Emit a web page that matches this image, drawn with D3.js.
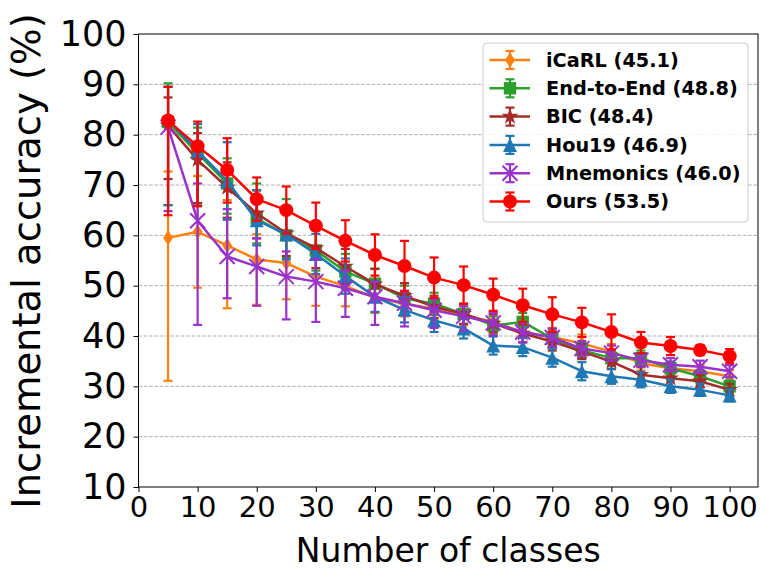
<!DOCTYPE html>
<html>
<head>
<meta charset="utf-8">
<script src="https://cdn.jsdelivr.net/npm/d3@7"></script>
<style>
  body { margin: 0; background: #fff; }
  svg { display: block; font-family: "DejaVu Sans", sans-serif; }
</style>
</head>
<body>
<svg id="chart" width="771" height="578"></svg>
<script>
// number of classes seen so far
const classes = [5, 10, 15, 20, 25, 30, 35, 40, 45, 50, 55, 60, 65, 70, 75, 80, 85, 90, 95, 100];
const xTicks = [0, 10, 20, 30, 40, 50, 60, 70, 80, 90, 100];
const yTicks = [10, 20, 30, 40, 50, 60, 70, 80, 90, 100];

const icarlAcc  = [59.5, 60.7, 58.0, 55.2, 54.5, 51.8, 49.9, 47.6, 46.4, 45.4, 44.1, 42.8, 40.8, 39.8, 38.5, 36.9, 34.6, 33.6, 33.0, 32.0];
const icarlUp   = [13.2, 11.1, 9.0, 5.0, 4.5, 4.0, 3.0, 2.5, 2.2, 2.0, 2.0, 2.0, 2.0, 1.8, 1.8, 1.5, 1.5, 1.3, 1.2, 1.2];
const icarlDown = [28.4, 11.1, 12.5, 9.0, 7.2, 5.8, 4.0, 3.0, 2.5, 2.2, 2.0, 2.0, 2.0, 1.8, 1.8, 1.5, 1.5, 1.3, 1.2, 1.2];

const e2eAcc  = [82.5, 76.3, 70.3, 63.4, 60.0, 57.0, 52.8, 50.4, 47.5, 46.4, 44.4, 42.1, 42.8, 39.5, 37.2, 35.6, 35.6, 33.6, 32.0, 30.0];
const e2eUp   = [7.7, 5.1, 5.0, 6.9, 7.2, 4.0, 3.5, 3.0, 2.5, 2.2, 2.0, 1.8, 1.8, 1.8, 1.5, 1.5, 1.5, 1.3, 1.2, 1.2];
const e2eDown = [16.5, 10.0, 6.0, 5.0, 4.5, 4.0, 3.5, 3.0, 2.5, 2.2, 2.0, 1.8, 1.8, 1.8, 1.5, 1.5, 1.5, 1.3, 1.2, 1.2];

const bicAcc  = [81.8, 75.0, 69.5, 64.4, 60.4, 57.5, 53.8, 50.3, 48.0, 45.8, 44.4, 42.5, 40.5, 38.9, 36.9, 34.9, 32.3, 31.6, 31.0, 29.3];
const bicUp   = [5.6, 5.3, 5.0, 4.5, 4.5, 4.0, 3.5, 3.0, 2.5, 2.2, 2.0, 1.8, 1.8, 1.8, 1.5, 1.5, 1.5, 1.5, 1.2, 1.2];
const bicDown = [10.6, 8.6, 6.0, 5.0, 4.5, 4.0, 3.5, 3.0, 2.5, 2.2, 2.0, 1.8, 1.8, 1.8, 1.5, 1.5, 1.5, 2.5, 1.2, 1.2];

const houAcc  = [83.0, 76.8, 70.8, 63.0, 60.2, 56.3, 51.9, 47.8, 45.2, 43.1, 41.5, 38.1, 37.8, 35.7, 33.0, 32.0, 31.3, 30.0, 29.3, 28.2];
const houUp   = [6.5, 5.3, 7.7, 6.0, 5.0, 4.0, 3.5, 3.0, 2.5, 2.2, 2.0, 1.8, 1.8, 1.8, 1.8, 1.5, 1.5, 1.3, 1.2, 1.2];
const houDown = [17.0, 11.0, 7.7, 5.0, 5.0, 4.0, 3.5, 3.0, 2.5, 2.3, 2.0, 1.8, 1.8, 1.8, 1.8, 1.5, 1.5, 1.3, 1.2, 1.2];

const mnemAcc  = [81.5, 62.9, 55.8, 53.8, 51.8, 50.8, 49.5, 47.8, 46.5, 45.1, 43.9, 42.6, 40.8, 39.7, 37.5, 36.6, 35.2, 34.3, 33.9, 33.0];
const mnemUp   = [8.0, 7.4, 9.4, 5.6, 5.0, 4.5, 3.5, 3.0, 2.5, 2.2, 2.0, 2.0, 1.8, 1.8, 1.5, 1.5, 1.3, 1.3, 1.2, 1.2];
const mnemDown = [16.7, 20.7, 8.3, 7.8, 8.5, 8.0, 5.7, 5.6, 4.6, 3.5, 2.8, 2.5, 2.0, 1.8, 1.5, 1.5, 1.3, 1.3, 1.2, 1.2];

const oursAcc  = [82.8, 77.7, 73.0, 67.2, 65.0, 61.9, 58.9, 56.1, 53.9, 51.6, 50.1, 48.2, 46.1, 44.3, 42.7, 40.8, 38.7, 38.0, 37.2, 36.0];
const oursUp   = [6.7, 4.9, 6.3, 4.3, 4.7, 4.6, 4.1, 4.1, 5.0, 4.0, 3.7, 3.2, 3.3, 3.4, 2.9, 3.5, 2.1, 1.8, 1.0, 1.4];
const oursDown = [18.8, 11.9, 6.5, 4.3, 4.7, 4.6, 4.1, 4.1, 5.0, 4.0, 3.7, 3.2, 3.3, 3.4, 2.9, 3.5, 2.1, 1.8, 1.0, 1.4];

const methodNames = ['iCaRL (45.1)', 'End-to-End (48.8)', 'BIC (48.4)', 'Hou19 (46.9)', 'Mnemonics (46.0)', 'Ours (53.5)'];
const methodColours = ['#ff7f0e', '#2ca02c', '#a52a2a', '#1f77b4', '#9932cc', '#ff0000'];
const methodMarkers = ['diamond', 'square', 'star', 'triangle', 'cross', 'circle'];

const series = [
  { acc: icarlAcc, up: icarlUp, down: icarlDown },
  { acc: e2eAcc, up: e2eUp, down: e2eDown },
  { acc: bicAcc, up: bicUp, down: bicDown },
  { acc: houAcc, up: houUp, down: houDown },
  { acc: mnemAcc, up: mnemUp, down: mnemDown },
  { acc: oursAcc, up: oursUp, down: oursDown }
].map((s, i) => ({ ...s, name: methodNames[i], colour: methodColours[i], marker: methodMarkers[i] }));

const svg = d3.select('#chart');
const plot = { left: 138.5, right: 758, top: 34, bottom: 487 };

const x = d3.scaleLinear().domain([0, 104.8]).range([plot.left, plot.right]);
const y = d3.scaleLinear().domain([10, 100]).range([plot.bottom, plot.top]);

function markerPath(shape) {
  if (shape === 'diamond') return 'M0,-7.5L5,0L0,7.5L-5,0Z';
  if (shape === 'square') return 'M-6.2,-6.2H6.2V6.2H-6.2Z';
  if (shape === 'triangle') return 'M0,-7L7,7H-7Z';
  if (shape === 'star') return d3.symbol(d3.symbolStar, 88)();
  if (shape === 'cross') return 'M-7.5,-7.5L7.5,7.5M-7.5,7.5L7.5,-7.5';
  return d3.symbol(d3.symbolCircle, Math.PI * 49)();
}

function drawMarker(g, shape, colour) {
  const p = g.append('path').attr('d', markerPath(shape));
  if (shape === 'cross') p.attr('fill', 'none').attr('stroke', colour).attr('stroke-width', 2);
  else p.attr('fill', colour);
}

// grid
svg.append('g')
  .selectAll('line')
  .data(yTicks.filter(t => t > 10 && t < 100))
  .join('line')
  .attr('x1', plot.left).attr('x2', plot.right)
  .attr('y1', d => y(d)).attr('y2', d => y(d))
  .attr('stroke', '#b0b0b0')
  .attr('stroke-width', 1)
  .attr('stroke-dasharray', '3.7,1.6');

// series
const capHalf = 4.5;
series.forEach(s => {
  const g = svg.append('g');
  const pts = classes.map((c, i) => ({ c, v: s.acc[i], lo: s.acc[i] - s.down[i], hi: s.acc[i] + s.up[i] }));

  const bars = g.append('g').attr('stroke', s.colour).attr('stroke-width', 2.2);
  pts.forEach(p => {
    bars.append('line').attr('x1', x(p.c)).attr('x2', x(p.c)).attr('y1', y(p.lo)).attr('y2', y(p.hi));
    [p.lo, p.hi].forEach(e => {
      bars.append('line')
        .attr('x1', x(p.c) - capHalf).attr('x2', x(p.c) + capHalf)
        .attr('y1', y(e)).attr('y2', y(e));
    });
  });

  g.append('path')
    .datum(pts)
    .attr('fill', 'none')
    .attr('stroke', s.colour)
    .attr('stroke-width', 2.5)
    .attr('stroke-linejoin', 'round')
    .attr('d', d3.line().x(d => x(d.c)).y(d => y(d.v)));

  pts.forEach(p => {
    drawMarker(g.append('g').attr('transform', `translate(${x(p.c)},${y(p.v)})`), s.marker, s.colour);
  });
});

// axes
const xAxis = svg.append('g')
  .attr('transform', `translate(0,${plot.bottom})`)
  .call(d3.axisBottom(x).tickValues(xTicks).tickSize(5).tickPadding(4).tickFormat(d3.format('d')));
xAxis.select('.domain').remove();
xAxis.selectAll('text').attr('font-size', 29).attr('font-family', 'DejaVu Sans').attr('fill', '#000').attr('dy', '0.71em');
xAxis.selectAll('line').attr('stroke', '#000').attr('stroke-width', 1);

const yAxis = svg.append('g')
  .attr('transform', `translate(${plot.left},0)`)
  .call(d3.axisLeft(y).tickValues(yTicks).tickSize(5).tickPadding(7).tickFormat(d3.format('d')));
yAxis.select('.domain').remove();
yAxis.selectAll('text').attr('font-size', 35).attr('font-family', 'DejaVu Sans').attr('fill', '#000');
yAxis.selectAll('line').attr('stroke', '#000').attr('stroke-width', 1);

svg.append('rect')
  .attr('x', plot.left).attr('y', plot.top)
  .attr('width', plot.right - plot.left).attr('height', plot.bottom - plot.top)
  .attr('fill', 'none').attr('stroke', '#000').attr('stroke-width', 1);

// axis labels
svg.append('text')
  .attr('x', (plot.left + plot.right) / 2).attr('y', 561.5)
  .attr('text-anchor', 'middle')
  .attr('font-size', 33)
  .text('Number of classes');

svg.append('text')
  .attr('transform', 'translate(40,261) rotate(-90)')
  .attr('text-anchor', 'middle')
  .attr('font-size', 38.5)
  .text('Incremental accuracy (%)');

// legend
const legend = svg.append('g').attr('transform', 'translate(483,43)');
legend.append('rect')
  .attr('width', 265).attr('height', 179)
  .attr('rx', 4)
  .attr('fill', '#fff').attr('fill-opacity', 0.8)
  .attr('stroke', '#cccccc').attr('stroke-width', 1);

series.forEach((s, i) => {
  const row = legend.append('g').attr('transform', `translate(0,${17 + i * 28.3})`);
  row.append('line').attr('x1', 6.5).attr('x2', 47).attr('stroke', s.colour).attr('stroke-width', 2.5);
  row.append('line').attr('x1', 27).attr('x2', 27).attr('y1', -9).attr('y2', 9).attr('stroke', s.colour).attr('stroke-width', 2.2);
  [-9, 9].forEach(e => row.append('line').attr('x1', 27 - capHalf).attr('x2', 27 + capHalf).attr('y1', e).attr('y2', e).attr('stroke', s.colour).attr('stroke-width', 2.2));
  drawMarker(row.append('g').attr('transform', 'translate(27,0)'), s.marker, s.colour);
  row.append('text')
    .attr('x', 63).attr('y', 0).attr('dy', '0.35em')
    .attr('font-size', 19.3).attr('font-weight', 'bold')
    .text(s.name);
});
</script>
</body>
</html>
